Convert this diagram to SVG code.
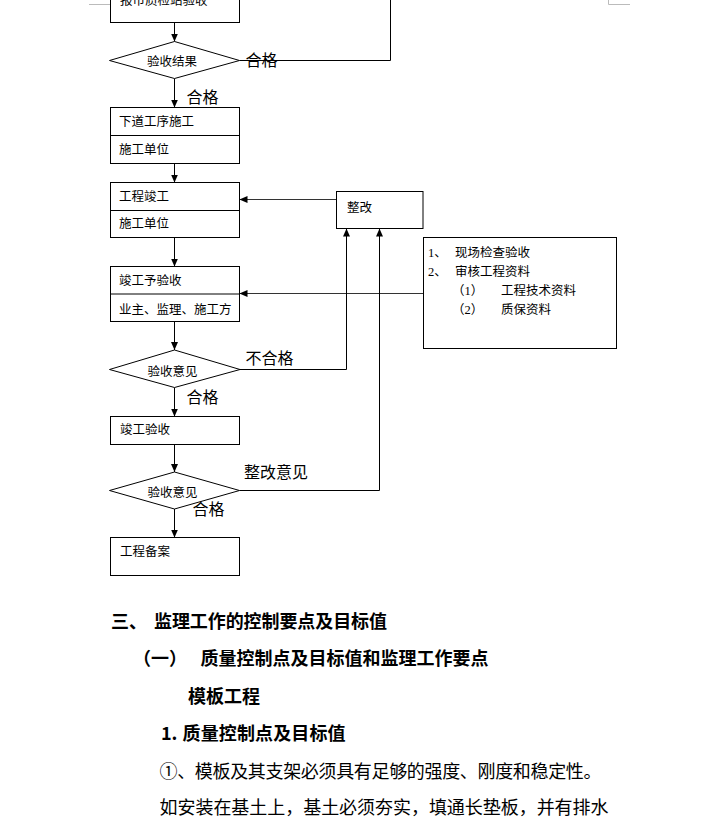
<svg xmlns="http://www.w3.org/2000/svg" width="714" height="817" viewBox="0 0 714 817">
<defs>
<marker id="ah" markerUnits="userSpaceOnUse" markerWidth="8" markerHeight="7" refX="8" refY="3.5" orient="auto">
<path d="M0,0 L8,3.5 L0,7 Z" fill="#000"/>
</marker>
<style>
.box{fill:#fff;stroke:#000;stroke-width:1}
.ln{fill:none;stroke:#000;stroke-width:1}
.gl{fill:none;stroke:#333;stroke-width:1}
.t{font-family:"Noto Sans CJK SC","Noto Sans",sans-serif;font-size:12.5px;fill:#000}
.lb{font-family:"Noto Sans CJK SC","Noto Sans",sans-serif;font-size:16px;fill:#000}
.h{font-family:"Noto Sans CJK SC","Noto Sans",sans-serif;font-size:18px;font-weight:bold;fill:#000}
.p{font-family:"Noto Sans CJK SC","Noto Sans",sans-serif;font-size:18px;fill:#000}
.d{font-family:"Liberation Serif",serif}
.cm{fill:none;stroke:#bbb;stroke-width:1}
</style>
</defs>
<rect width="714" height="817" fill="#fff"/>
<g id="corner-marks">
<path class="cm" d="M89,4.5 H110"/>
<path class="cm" d="M608.5,0 V4.5 H630"/>
</g>
<g id="connectors">
<path class="ln" d="M174.5,22.5 V41.5" marker-end="url(#ah)"/>
<path class="ln" d="M174.5,78.5 V107.5" marker-end="url(#ah)"/>
<path class="ln" d="M174.5,163.5 V182.5" marker-end="url(#ah)"/>
<path class="ln" d="M174.5,237.5 V266.5" marker-end="url(#ah)"/>
<path class="ln" d="M174.5,321.5 V350" marker-end="url(#ah)"/>
<path class="ln" d="M174.5,387.5 V416.5" marker-end="url(#ah)"/>
<path class="ln" d="M174.5,444.5 V472" marker-end="url(#ah)"/>
<path class="ln" d="M174.5,509 V537.5" marker-end="url(#ah)"/>
<path class="ln" d="M239.5,60.5 H390.5 V0"/>
<path class="gl" d="M336.5,199.5 H239.5" marker-end="url(#ah)"/>
<path class="gl" d="M423.5,293.5 H239.5" marker-end="url(#ah)"/>
<path class="ln" d="M240,369.5 H346.5 V228.5" marker-end="url(#ah)"/>
<path class="ln" d="M239.5,490.5 H379.5 V228.5" marker-end="url(#ah)"/>
</g>
<g id="n-report">
<rect class="box" x="110.5" y="-10" width="129" height="32.5"/>
<text class="t" x="120" y="5">报市质检站验收</text>
</g>
<g id="n-result1">
<polygon class="box" points="109.5,60.5 174.5,41.5 239.5,60.5 174.5,78.5"/>
<text class="t" x="147" y="66">验收结果</text>
</g>
<g id="n-next">
<rect class="box" x="110.5" y="107.5" width="129" height="56"/>
<path class="ln" d="M110.5,135.5 H239.5"/>
<text class="t" x="119" y="126">下道工序施工</text>
<text class="t" x="119" y="153.5">施工单位</text>
</g>
<g id="n-complete">
<rect class="box" x="110.5" y="182.5" width="129" height="55"/>
<path class="ln" d="M110.5,210.5 H239.5"/>
<text class="t" x="119" y="201">工程竣工</text>
<text class="t" x="119" y="228">施工单位</text>
</g>
<g id="n-fix">
<rect class="box" x="336.5" y="191.5" width="86.5" height="37"/>
<text class="t" x="347" y="212">整改</text>
</g>
<g id="n-info">
<rect class="box" x="423.5" y="237.5" width="193" height="111"/>
<text class="t" x="428" y="257"><tspan class="d">1</tspan>、</text>
<text class="t" x="455" y="257">现场检查验收</text>
<text class="t" x="428" y="276"><tspan class="d">2</tspan>、</text>
<text class="t" x="455" y="276">审核工程资料</text>
<text class="t" x="452" y="295">（<tspan class="d">1</tspan>）</text>
<text class="t" x="501" y="295">工程技术资料</text>
<text class="t" x="452" y="314">（<tspan class="d">2</tspan>）</text>
<text class="t" x="501" y="314">质保资料</text>
</g>
<g id="n-pre">
<rect class="box" x="110.5" y="266.5" width="129" height="55"/>
<path class="ln" d="M110.5,294 H239.5"/>
<text class="t" x="119" y="285">竣工予验收</text>
<text class="t" x="119" y="314">业主、监理、施工方</text>
</g>
<g id="n-opinion1">
<polygon class="box" points="109.5,369.5 174.5,350 240,369.5 174.5,387.5"/>
<text class="t" x="147.5" y="376">验收意见</text>
</g>
<g id="n-accept">
<rect class="box" x="110.5" y="416.5" width="129" height="28"/>
<text class="t" x="120" y="434">竣工验收</text>
</g>
<g id="n-opinion2">
<polygon class="box" points="109.5,490.5 174.5,472 239.5,490.5 174.5,509"/>
<text class="t" x="147.5" y="497">验收意见</text>
</g>
<g id="n-record">
<rect class="box" x="110.5" y="537.5" width="129" height="38"/>
<text class="t" x="120" y="556">工程备案</text>
</g>
<g id="labels">
<text class="lb" x="245.5" y="66">合格</text>
<text class="lb" x="186.5" y="103">合格</text>
<text class="lb" x="245.5" y="364">不合格</text>
<text class="lb" x="186.5" y="403">合格</text>
<text class="lb" x="244" y="478">整改意见</text>
<text class="lb" x="192.5" y="515">合格</text>
</g>
<g id="body-text">
<text class="h" x="111" y="628">三、</text>
<text class="h" x="154" y="628" textLength="233" lengthAdjust="spacing">监理工作的控制要点及目标值</text>
<text class="h" x="133" y="665">（一）</text>
<text class="h" x="200.5" y="665" textLength="288" lengthAdjust="spacing">质量控制点及目标值和监理工作要点</text>
<text class="h" x="188" y="703" textLength="72" lengthAdjust="spacing">模板工程</text>
<text class="h" x="161" y="740">1.</text>
<text class="h" x="182.5" y="740" textLength="163" lengthAdjust="spacing">质量控制点及目标值</text>
<text class="p" x="159.5" y="778" textLength="442" lengthAdjust="spacing">①、模板及其支架必须具有足够的强度、刚度和稳定性。</text>
<text class="p" x="159.5" y="814" textLength="449" lengthAdjust="spacing">如安装在基土上，基土必须夯实，填通长垫板，并有排水</text>
</g>
</svg>
